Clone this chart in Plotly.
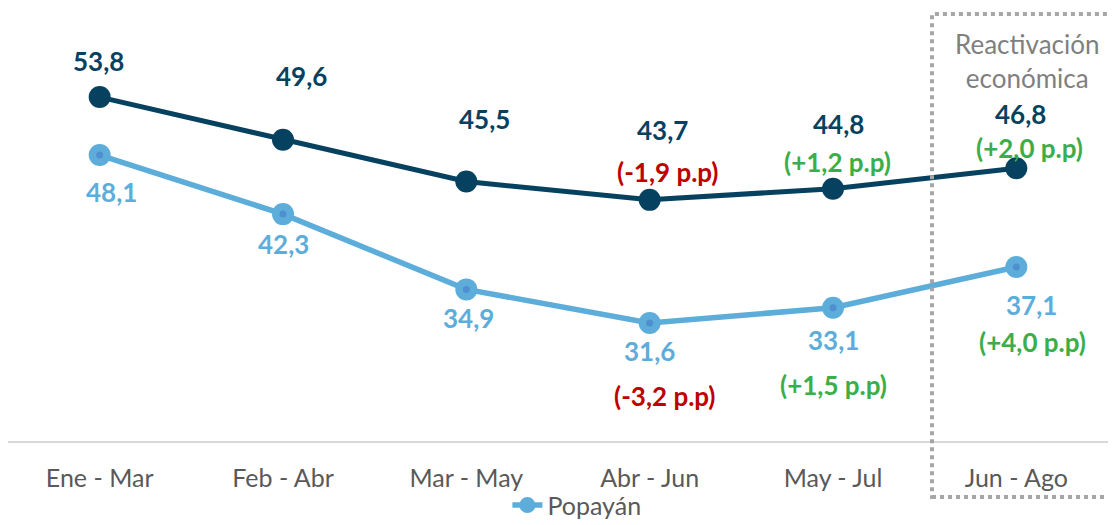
import plotly.graph_objects as go

# data
periods = ["Ene - Mar", "Feb - Abr", "Mar - May", "Abr - Jun", "May - Jul", "Jun - Ago"]
nacional = [53.8, 49.6, 45.5, 43.7, 44.8, 46.8]
popayan = [48.1, 42.3, 34.9, 31.6, 33.1, 37.1]
nacional_change = [None, None, None, -1.9, 1.2, 2.0]
popayan_change = [None, None, None, -3.2, 1.5, 4.0]

dark = "#06415F"
light = "#5DADDB"
inner = "#4F8FD0"
red = "#C00000"
green = "#3AAE49"
font = "Lato, 'Open Sans', sans-serif"

def fmt(v):
    return f"{v:.1f}".replace(".", ",")

def fmt_change(v):
    sign = "+" if v > 0 else "-"
    return f"({sign}{fmt(abs(v))} p.p)"

fig = go.Figure()

fig.add_trace(go.Scatter(
    x=periods, y=nacional, name="Nacional", mode="lines+markers",
    line=dict(color=dark, width=5), marker=dict(size=22, color=dark),
    showlegend=False,
))
fig.add_trace(go.Scatter(
    x=periods, y=popayan, name="Popayán", mode="lines+markers",
    line=dict(color=light, width=5.5), marker=dict(size=22, color=light),
))
fig.add_trace(go.Scatter(
    x=periods, y=popayan, mode="markers", showlegend=False,
    marker=dict(size=7, color=inner), hoverinfo="skip",
))

# value labels (pixel offsets from the point)
dark_off = [(-1, 36), (18, 64), (18, 63), (13, 70), (5, 65), (4, 54)]
light_off = [(12, -37), (0, -30), (2, -29), (0, -28), (0, -32), (15, -38)]
for i, p in enumerate(periods):
    fig.add_annotation(x=p, y=nacional[i], text=f"<b>{fmt(nacional[i])}</b>",
                       xshift=dark_off[i][0], yshift=dark_off[i][1], showarrow=False,
                       font=dict(family=font, size=26, color=dark))
    fig.add_annotation(x=p, y=popayan[i], text=f"<b>{fmt(popayan[i])}</b>",
                       xshift=light_off[i][0], yshift=light_off[i][1], showarrow=False,
                       font=dict(family=font, size=26, color=light))

dark_ch_off = [None, None, None, (18, 28), (4, 27), (13, 20)]
light_ch_off = [None, None, None, (15, -73), (0, -77), (16, -75)]
for i, p in enumerate(periods):
    if nacional_change[i] is not None:
        c = green if nacional_change[i] > 0 else red
        fig.add_annotation(x=p, y=nacional[i], text=f"<b>{fmt_change(nacional_change[i])}</b>",
                           xshift=dark_ch_off[i][0], yshift=dark_ch_off[i][1], showarrow=False,
                           font=dict(family=font, size=26, color=c))
    if popayan_change[i] is not None:
        c = green if popayan_change[i] > 0 else red
        fig.add_annotation(x=p, y=popayan[i], text=f"<b>{fmt_change(popayan_change[i])}</b>",
                           xshift=light_ch_off[i][0], yshift=light_ch_off[i][1], showarrow=False,
                           font=dict(family=font, size=26, color=c))

# dotted box marking the last period
fig.add_shape(type="rect", xref="paper", yref="paper",
              x0=0.840, x1=1.0018, y0=-0.1376, y1=1.049,
              line=dict(color="#A6A6A6", width=4, dash="dot"))
fig.add_annotation(xref="paper", yref="paper", x=0.926, y=1.02,
                   xanchor="center", yanchor="top",
                   text="Reactivación<br>económica", showarrow=False,
                   font=dict(family=font, size=26, color="#7F7F7F"))

# page body adds an 8px offset, so the figure is 8px smaller than the window
fig.update_layout(
    width=1108, height=517,
    margin=dict(l=0, r=8, t=26, b=84, autoexpand=False),
    paper_bgcolor="white", plot_bgcolor="white",
    font=dict(family=font, size=24, color="#595959"),
    xaxis=dict(range=[-0.5, 5.5], showgrid=False, showline=True, linecolor="#D9D9D9",
               linewidth=2, ticks="outside", ticklen=14, tickcolor="rgba(0,0,0,0)",
               tickfont=dict(size=25, color="#595959")),
    yaxis=dict(range=[20, 60], visible=False, showgrid=False, zeroline=False),
    legend=dict(orientation="h", x=0.454, xanchor="left",
                yref="container", y=0.038, yanchor="middle",
                bgcolor="rgba(0,0,0,0)",
                font=dict(size=25, color="#595959")),
    showlegend=True,
)

fig.write_html("out.html")
